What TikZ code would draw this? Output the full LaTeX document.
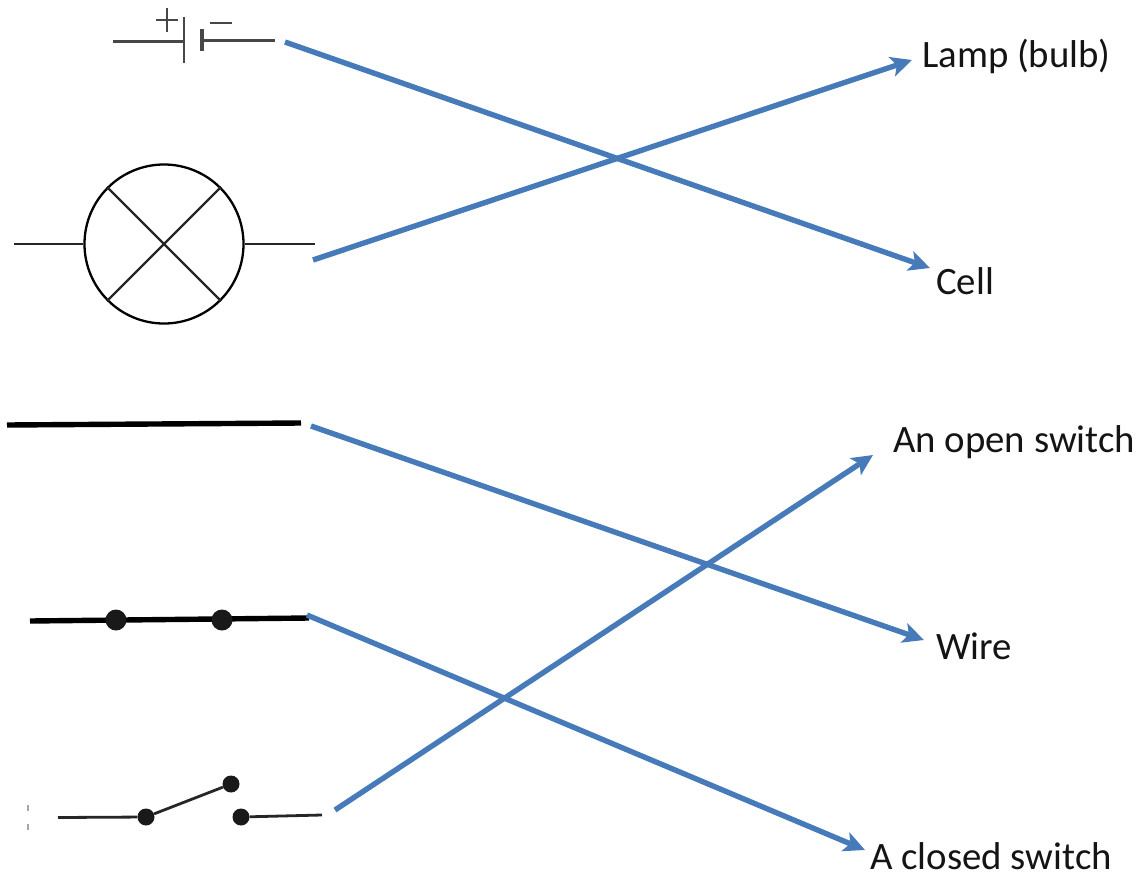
\documentclass[tikz,border=0pt]{standalone}
\usepackage{fontspec}
\setmainfont{Carlito}
\usetikzlibrary{arrows.meta}
\definecolor{linkblue}{RGB}{70,122,184}
\tikzset{
  link/.style={draw=linkblue,line width=5.4pt,-{Stealth[length=21pt,width=20pt,inset=5pt]}},
  lab/.style={anchor=base west,inner sep=0pt,font=\fontsize{38.8}{44}\selectfont,text=black!92},
  thin sym/.style={draw=black!85,line width=2.3pt},
  heavy sym/.style={draw=black,line width=5.4pt},
  bat sym/.style={draw=black!72,line width=2.8pt},
  blob/.style={circle,fill=black!90,inner sep=0pt,minimum size=#1},
}
\begin{document}
\begin{tikzpicture}[x=1pt,y=-1pt]
\useasboundingbox (0,0) rectangle (1142,875);
% labels
\node[lab] (lamp) at (922,67) {Lamp (bulb)};
\node[lab] (cell) at (936,294.5) {Cell};
\node[lab] (open) at (893,452) {An open switch};
\node[lab] (wire) at (936,659) {Wire};
\node[lab] (closed) at (870,869.5) {A closed switch};
% cell symbol
\draw[bat sym] (113,41.5) -- (184,41.5);
\draw[bat sym] (184,17) -- (184,63);
\draw[bat sym,line width=3.4pt] (202,29) -- (202,51);
\draw[bat sym,line width=3.4pt] (202,40.5) -- (275,40.5);
\draw[bat sym] (156,20) -- (178,20);
\draw[bat sym] (167,8) -- (167,32);
\draw[bat sym] (210,23) -- (232,23);
% lamp symbol
\node[circle,draw=black,line width=2.3pt,minimum size=159pt,inner sep=0pt] (bulb) at (164,244) {};
\draw[thin sym] (bulb.west) -- (14,244);
\draw[thin sym] (bulb.east) -- (315,244);
\draw[thin sym] (bulb.45) -- (bulb.225);
\draw[thin sym] (bulb.135) -- (bulb.315);
% wire
\coordinate (wa) at (7,425);
\coordinate (wb) at (301,423);
\draw[heavy sym] (wa) -- (wb);
% closed switch
\coordinate (ca) at (30,621);
\coordinate (cb) at (309,618);
\draw[heavy sym] (ca) -- (cb);
\node[blob=21pt] (c1) at (116,620) {};
\node[blob=21pt] (c2) at (222,620) {};
% open switch
\node[blob=17pt] (s1) at (146,817) {};
\node[blob=17pt] (s2) at (231,784) {};
\node[blob=17pt] (s3) at (241,817) {};
\coordinate (sa) at (58,817.5);
\coordinate (sb) at (322,815);
\draw[thin sym,line width=2.8pt] (sa) -- (s1);
\draw[thin sym,line width=2.8pt] (s1) -- (s2);
\draw[thin sym,line width=2.8pt] (s3) -- (sb);
\draw[black!35,line width=1.4pt] (28,805) -- (28,811);
\draw[black!35,line width=1.4pt] (28,824) -- (28,830);
% connectors
\coordinate (a1) at (285,42);
\coordinate (a2) at (313,260);
\coordinate (a3) at (311,426);
\coordinate (a4) at (307,615);
\coordinate (a5) at (335,810);
\coordinate (t1) at (930,268);
\coordinate (t2) at (912,60);
\coordinate (t3) at (924,640);
\coordinate (t4) at (865,850);
\coordinate (t5) at (873,455);
\draw[link] (a1) -- (t1);
\draw[link] (a2) -- (t2);
\draw[link] (a3) -- (t3);
\draw[link] (a4) -- (t4);
\draw[link] (a5) -- (t5);
\end{tikzpicture}
\end{document}
